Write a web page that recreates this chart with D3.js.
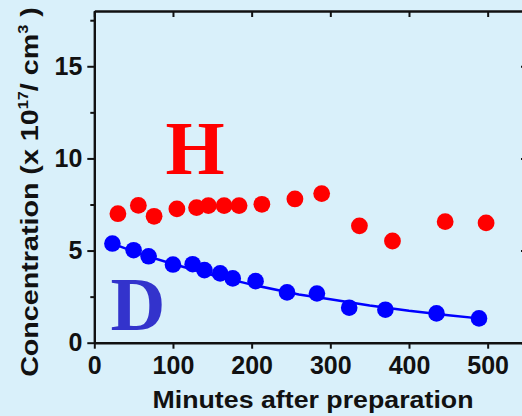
<!DOCTYPE html>
<html>
<head>
<meta charset="utf-8">
<script src="https://cdn.jsdelivr.net/npm/d3@7/dist/d3.min.js"></script>
<style>
  html, body { margin: 0; padding: 0; background: #d9f0fa; }
  svg { display: block; }
  text { font-family: "Liberation Sans", Arial, sans-serif; font-weight: bold; }
</style>
</head>
<body>
<svg id="chart" width="522" height="416"></svg>
<script>
// Hydrogen (H) concentration, minutes vs 10^17 / cm^3
const hMinutes = [30, 56, 76, 105, 130, 145, 165, 184, 213, 255, 289, 337, 379, 446, 498];
const hConc    = [7.0, 7.45, 6.86, 7.26, 7.33, 7.44, 7.44, 7.44, 7.51, 7.8, 8.09, 6.34, 5.52, 6.57, 6.5];

// Deuterium (D) concentration
const dMinutes = [23, 50, 69, 100, 125, 140, 160, 176, 205, 245, 283, 324, 370, 435, 489];
const dConc    = [5.38, 5.02, 4.69, 4.24, 4.26, 3.94, 3.76, 3.49, 3.34, 2.73, 2.67, 1.9, 1.79, 1.59, 1.32];

// Decay fit through the D points
const fitMinutes = [23, 60, 100, 150, 200, 260, 300, 350, 400, 450, 489];
const fitConc    = [5.38, 4.79, 4.27, 3.67, 3.15, 2.62, 2.36, 2.02, 1.73, 1.49, 1.32];

const xTicks = [0, 100, 200, 300, 400, 500];
const yTicks = [0, 5, 10, 15];
const yMinorTicks = [2.5, 7.5, 12.5, 17.5];

const svg = d3.select("#chart");
const plotLeft = 94.3, plotRight = 527, plotTop = 11, plotBottom = 342.7;

const x = d3.scaleLinear().domain([0, 550]).range([plotLeft, plotRight]);
const y = d3.scaleLinear().domain([0, 18]).range([plotBottom, plotTop]);

function styleAxis(g, showText) {
  g.selectAll(".domain").attr("stroke", "#111").attr("stroke-width", 2.4);
  g.selectAll(".tick line").attr("stroke", "#111").attr("stroke-width", 2);
  g.selectAll(".tick text")
    .attr("fill", "#111")
    .style("font-size", "25px")
    .style("font-family", '"Liberation Sans", Arial, sans-serif')
    .style("font-weight", "bold");
  if (!showText) g.selectAll(".tick text").remove();
}

// bottom axis
const gx = svg.append("g").attr("transform", `translate(0,${plotBottom})`)
  .call(d3.axisBottom(x).tickValues(xTicks).tickFormat(d3.format("d"))
    .tickSize(6).tickSizeOuter(0).tickPadding(8));
styleAxis(gx, true);

// top axis (ticks pointing inward)
const gxt = svg.append("g").attr("transform", `translate(0,${plotTop})`)
  .call(d3.axisBottom(x).tickValues(xTicks).tickSize(6).tickSizeOuter(0));
styleAxis(gxt, false);

// left axis with minor ticks
const gy = svg.append("g").attr("transform", `translate(${plotLeft},0)`)
  .call(d3.axisLeft(y).tickValues(yTicks).tickFormat(d3.format("d"))
    .tickSize(7).tickSizeOuter(0).tickPadding(5));
styleAxis(gy, true);
const gyMinor = svg.append("g").attr("transform", `translate(${plotLeft},0)`)
  .call(d3.axisLeft(y).tickValues(yMinorTicks).tickSize(4).tickSizeOuter(0));
styleAxis(gyMinor, false);
gyMinor.select(".domain").remove();

// right axis (ticks pointing inward)
const gyr = svg.append("g").attr("transform", `translate(${plotRight},0)`)
  .call(d3.axisLeft(y).tickValues(yTicks).tickSize(6).tickSizeOuter(0));
styleAxis(gyr, false);

// fit line for D
const line = d3.line().x((d, i) => x(fitMinutes[i])).y(d => y(d));
svg.append("path")
  .datum(fitConc)
  .attr("d", line)
  .attr("fill", "none")
  .attr("stroke", "#0000ff")
  .attr("stroke-width", 2.5);

// H points
svg.append("g").selectAll("circle")
  .data(hConc)
  .join("circle")
  .attr("cx", (d, i) => x(hMinutes[i]))
  .attr("cy", d => y(d))
  .attr("r", 8.4)
  .attr("fill", "#ff0000");

// D points
svg.append("g").selectAll("circle")
  .data(dConc)
  .join("circle")
  .attr("cx", (d, i) => x(dMinutes[i]))
  .attr("cy", d => y(d))
  .attr("r", 8.3)
  .attr("fill", "#0000ff");

// series labels
svg.append("text")
  .attr("x", 195).attr("y", 174)
  .attr("text-anchor", "middle")
  .style("font-family", '"Liberation Serif", "Times New Roman", serif')
  .style("font-size", "76px")
  .attr("fill", "#ff0000")
  .text("H");

svg.append("text")
  .attr("x", 138).attr("y", 329.5)
  .attr("text-anchor", "middle")
  .style("font-family", '"Liberation Serif", "Times New Roman", serif')
  .style("font-size", "76px")
  .attr("fill", "#3333cc")
  .text("D");

// axis titles (slightly widened lettering)
svg.append("text")
  .attr("transform", "translate(313,407.5) scale(1.115,1)")
  .attr("text-anchor", "middle")
  .style("font-size", "24px")
  .attr("fill", "#111")
  .text("Minutes after preparation");

const yTitle = svg.append("text")
  .attr("transform", "translate(37.7,192) rotate(-90) scale(1.17,1)")
  .attr("text-anchor", "middle")
  .style("font-size", "24.5px")
  .attr("fill", "#111");
yTitle.append("tspan").text("Concentration (x 10");
yTitle.append("tspan").attr("dy", -10).style("font-size", "14px").text("17");
yTitle.append("tspan").attr("dy", 10).text("/ cm");
yTitle.append("tspan").attr("dy", -10).style("font-size", "14px").text("3");
yTitle.append("tspan").attr("dy", 10).text(" )");
</script>
</body>
</html>
